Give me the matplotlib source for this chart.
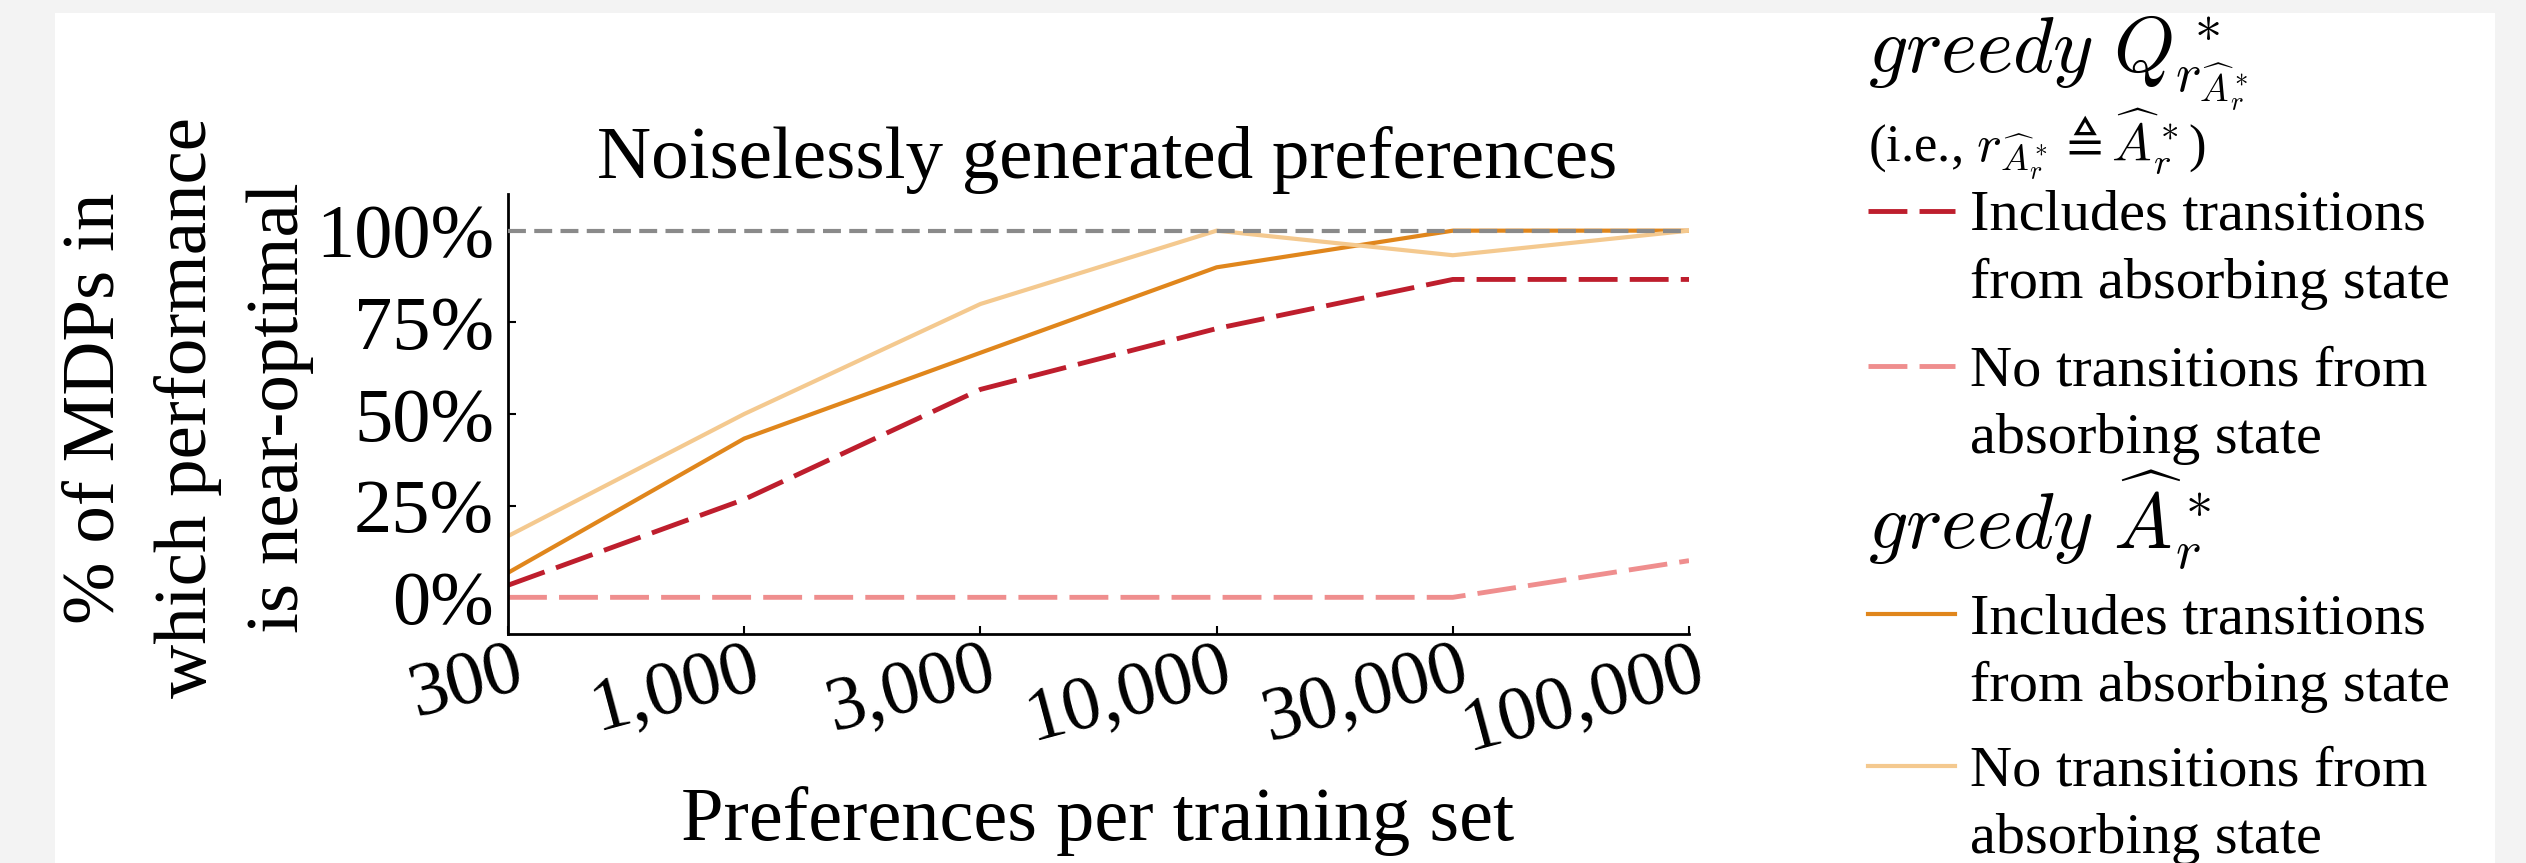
import numpy as np
import matplotlib
matplotlib.use("Agg")
import matplotlib.pyplot as plt
from matplotlib.lines import Line2D
from matplotlib.patches import Rectangle
from matplotlib.transforms import ScaledTranslation

# training set sizes and % of MDPs with near-optimal performance
prefs = [300, 1000, 3000, 10000, 30000, 100000]
q_with_abs = [3.3, 26.7, 56.7, 73.3, 86.7, 86.7]
q_no_abs = [0.0, 0.0, 0.0, 0.0, 0.0, 10.0]
a_with_abs = [6.7, 43.3, 66.7, 90.0, 100.0, 100.0]
a_no_abs = [16.7, 50.0, 80.0, 100.0, 93.3, 100.0]
yticks = [0, 25, 50, 75, 100]

RED = "#be1e2d"
PINK = "#ef8e8e"
ORANGE = "#e0861c"
LIGHT = "#f4c98f"
GRAY = "#8a8a8a"

W, H = 2526, 863

plt.rcParams['font.family'] = ['Liberation Serif', 'DejaVu Serif']
plt.rcParams['mathtext.fontset'] = 'cm'


def fx(px):
    return px / W


def fy(py):
    return 1 - py / H


fig = plt.figure(figsize=(W / 100, H / 100), dpi=100, facecolor="#f3f3f3")
fig.patches.append(Rectangle((fx(55), 0), fx(2495) - fx(55), fy(13),
                             transform=fig.transFigure, facecolor="white",
                             edgecolor="none", zorder=-10))

ax = fig.add_axes([fx(508), fy(634), fx(1689) - fx(508), fy(194) - fy(634)])
ax.patch.set_alpha(0)

x = np.arange(len(prefs))
dash = (8, 2.5)
ax.plot(x, q_with_abs, color=RED, lw=3.5, dashes=dash)
ax.plot(x, q_no_abs, color=PINK, lw=3.5, dashes=dash)
ax.plot(x, a_with_abs, color=ORANGE, lw=3)
ax.plot(x, a_no_abs, color=LIGHT, lw=3)
ax.axhline(100, color=GRAY, lw=3, dashes=(4.3, 2), zorder=5)

ax.set_xlim(0, len(prefs) - 1)
ax.set_ylim(-10, 110)
ax.set_xticks(x, [f"{p:,}" for p in prefs], rotation=15, ha='right',
              va='top', rotation_mode='anchor')
ax.set_yticks(yticks, [f"{v}%" for v in yticks])
ax.tick_params(direction='in', length=6, width=1.5, labelsize=55)
ax.tick_params(axis='x', pad=1)
ax.tick_params(axis='y', pad=10)
shift = ScaledTranslation(5 / 100, 0, fig.dpi_scale_trans)
for lbl in ax.get_xticklabels():
    lbl.set_transform(lbl.get_transform() + shift)
for side in ['top', 'right']:
    ax.spines[side].set_visible(False)
for side in ['left', 'bottom']:
    ax.spines[side].set_linewidth(2)

fig.text(fx(1107), fy(178), "Noiselessly generated preferences",
         ha='center', va='baseline', fontsize=54)
fig.text(fx(1098), fy(840), "Preferences per training set",
         ha='center', va='baseline', fontsize=55)
fig.text(fx(188), fy(408), "% of MDPs in\nwhich performance\nis near-optimal",
         rotation=90, ha='center', va='center', multialignment='center',
         linespacing=1.48, fontsize=54)

# legend, drawn by hand so each handle sits on the first text line
LX0, LX1, TX = 1868, 1955, 1970


def entry(y_base, color, dashed, lines):
    kw = dict(dashes=dash, lw=3.5) if dashed else dict(lw=3)
    fig.add_artist(Line2D([fx(LX0), fx(LX1)], [fy(y_base - 19)] * 2,
                          transform=fig.transFigure, color=color, **kw))
    for i, s in enumerate(lines):
        fig.text(fx(TX), fy(y_base + 68 * i), s, ha='left', va='baseline',
                 fontsize=42)


fig.text(fx(LX0), fy(72), r"$greedy\ Q^*_{r_{\widehat{A}^*_r}}$",
         ha='left', va='baseline', fontsize=56)
fig.text(fx(LX0), fy(162), r"(i.e., $r_{\widehat{A}^*_r} \triangleq \widehat{A}^*_r$)",
         ha='left', va='baseline', fontsize=38)
entry(230, RED, True, ["Includes transitions", "from absorbing state"])
entry(385, PINK, True, ["No transitions from", "absorbing state"])
fig.text(fx(LX0), fy(549), r"$greedy\ \widehat{A}^*_r$",
         ha='left', va='baseline', fontsize=56)
entry(633, ORANGE, False, ["Includes transitions", "from absorbing state"])
entry(785, LIGHT, False, ["No transitions from", "absorbing state"])

fig.savefig("out.png", dpi=100, facecolor=fig.get_facecolor())
